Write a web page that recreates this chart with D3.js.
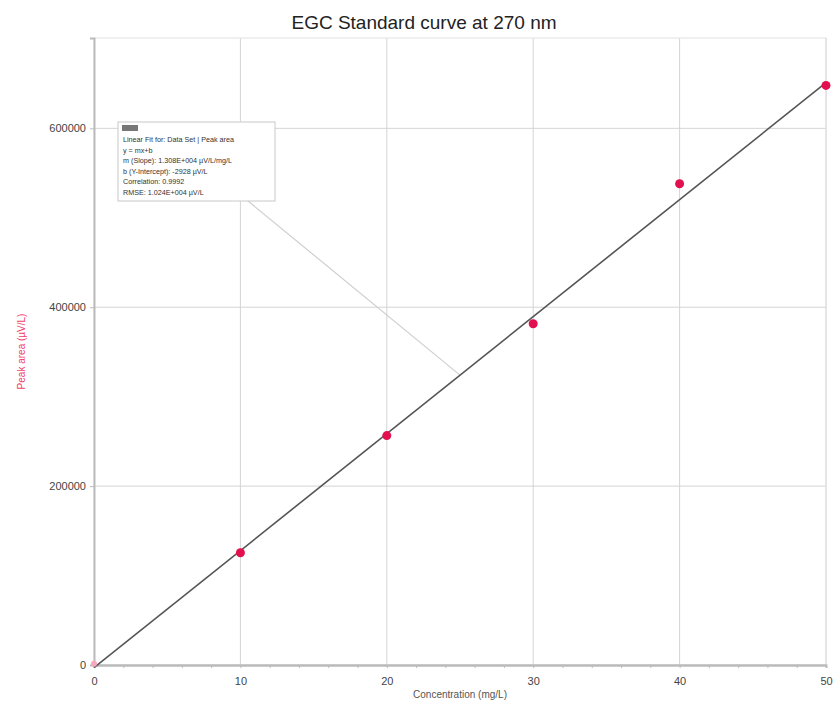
<!DOCTYPE html>
<html>
<head>
  <title>EGC Standard curve</title>
  <script src="https://d3js.org/d3.v7.min.js"></script>
  <style>
    body { margin: 0; background: #fff; }
    text { font-family: "Liberation Sans", Arial, sans-serif; }
  </style>
</head>
<body>
  <svg id="chart"></svg>
  <script>
    // data
    const concentration = [0, 10, 20, 30, 40, 50];
    const peakArea = [1500, 125500, 256500, 381500, 538000, 648000];
    const slope = 1.308e4;
    const intercept = -2928;
    const xTicks = [0, 10, 20, 30, 40, 50];
    const yTicks = [0, 200000, 400000, 600000];
    const fitText = [
      "Linear Fit for: Data Set | Peak area",
      "y = mx+b",
      "m (Slope): 1.308E+004 \u00b5V/L/mg/L",
      "b (Y-Intercept): -2928 \u00b5V/L",
      "Correlation: 0.9992",
      "RMSE: 1.024E+004 \u00b5V/L"
    ];

    const W = 836, H = 708;
    const margin = { top: 38, right: 10, bottom: 43, left: 94 };
    const width = W - margin.left - margin.right;
    const height = H - margin.top - margin.bottom;

    const svg = d3.select("#chart").attr("width", W).attr("height", H);
    const g = svg.append("g").attr("transform", `translate(${margin.left},${margin.top})`);

    const x = d3.scaleLinear().domain([0, 50]).range([0, width]);
    const y = d3.scaleLinear().domain([0, 701000]).range([height, 0]);

    // title
    svg.append("text")
      .attr("x", 424).attr("y", 29)
      .attr("text-anchor", "middle")
      .attr("font-size", 19)
      .attr("fill", "#222")
      .text("EGC Standard curve at 270 nm");

    // grid
    g.selectAll(".vgrid").data(xTicks.slice(1)).enter().append("line")
      .attr("x1", d => x(d)).attr("x2", d => x(d))
      .attr("y1", 0).attr("y2", height)
      .attr("stroke", "#d4d4d4").attr("stroke-width", 1);
    g.selectAll(".hgrid").data(yTicks.slice(1)).enter().append("line")
      .attr("x1", 0).attr("x2", width)
      .attr("y1", d => y(d)).attr("y2", d => y(d))
      .attr("stroke", "#d4d4d4").attr("stroke-width", 1);

    // frame
    g.append("rect").attr("width", width).attr("height", height)
      .attr("fill", "none").attr("stroke", "#e2e2e2");

    // axes
    const xAxis = g.append("g").attr("transform", `translate(0,${height})`)
      .call(d3.axisBottom(x).tickValues(xTicks).tickSize(0).tickPadding(12));
    const xMinor = g.append("g").attr("transform", `translate(0,${height})`)
      .call(d3.axisBottom(x).tickValues(d3.range(0, 51, 2)).tickSize(3).tickFormat(""));
    const yAxis = g.append("g")
      .call(d3.axisLeft(y).tickValues(yTicks).tickSize(4).tickPadding(4).tickFormat(d3.format("d")));
    [xAxis, xMinor, yAxis].forEach(a => {
      a.select(".domain").attr("stroke", "#bbb").attr("stroke-width", 2);
      a.selectAll(".tick line").attr("stroke", "#bbb");
      a.selectAll("text").attr("font-size", 11).attr("fill", "#444");
    });

    // axis labels
    svg.append("text")
      .attr("x", margin.left + x(25)).attr("y", 698)
      .attr("text-anchor", "middle").attr("font-size", 10).attr("fill", "#555")
      .text("Concentration (mg/L)");
    svg.append("text")
      .attr("transform", `translate(25,${margin.top + height / 2}) rotate(-90)`)
      .attr("text-anchor", "middle").attr("font-size", 10).attr("fill", "#f0406a")
      .text("Peak area (\u00b5V/L)");

    // leader line from annotation to fit line
    const box = { x: 24, y: 84, w: 157, h: 79 };
    g.append("line")
      .attr("x1", box.x + 130).attr("y1", box.y + box.h)
      .attr("x2", x(25)).attr("y2", y(slope * 25 + intercept))
      .attr("stroke", "#cfcfcf").attr("stroke-width", 1.2);

    // fit line
    g.append("line")
      .attr("x1", x(0)).attr("y1", y(intercept))
      .attr("x2", x(50)).attr("y2", y(slope * 50 + intercept))
      .attr("stroke", "#555").attr("stroke-width", 1.6);

    // points
    g.selectAll(".pt").data(concentration).enter().append("circle")
      .attr("cx", d => x(d))
      .attr("cy", (d, i) => y(peakArea[i]))
      .attr("r", (d, i) => i === 0 ? 3 : 4.5)
      .attr("fill", (d, i) => i === 0 ? "#f6a8bd" : "#e3104f");

    // annotation box
    const ann = g.append("g").attr("transform", `translate(${box.x},${box.y})`);
    ann.append("rect").attr("width", box.w).attr("height", box.h)
      .attr("fill", "#fff").attr("stroke", "#c8c8c8");
    ann.append("rect").attr("x", 4).attr("y", 3).attr("width", 16).attr("height", 6)
      .attr("fill", "#777");
    ann.selectAll(".ln").data(fitText).enter().append("text")
      .attr("x", 5).attr("y", (d, i) => 20 + i * 10.5)
      .attr("font-size", 7.2).attr("fill", "#333")
      .text(d => d);
  </script>
</body>
</html>
